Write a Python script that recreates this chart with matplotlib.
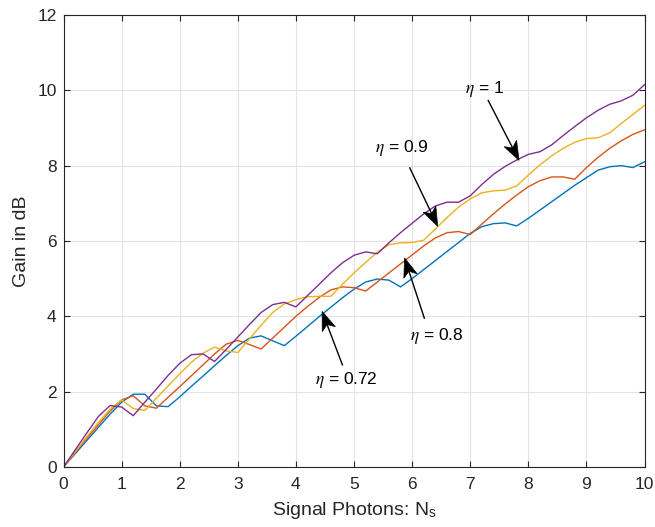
import numpy as np
import matplotlib
matplotlib.use('Agg')
import matplotlib.pyplot as plt
from matplotlib.patches import Polygon

plt.rcParams['font.family'] = ['Liberation Sans', 'DejaVu Sans']
plt.rcParams['mathtext.fontset'] = 'stix'

# signal photons, sampled every 0.2
ns = np.round(np.arange(0, 10.01, 0.2), 1)

# gain (dB) for each detector efficiency
gain_072 = [0, 0.35, 0.70, 1.05, 1.40, 1.72, 1.93, 1.93, 1.62, 1.60,
            1.86, 2.14, 2.41, 2.69, 2.96, 3.22, 3.42, 3.48, 3.35, 3.22,
            3.47, 3.73, 3.99, 4.24, 4.49, 4.72, 4.91, 4.99, 4.96, 4.78,
            5.00, 5.24, 5.48, 5.72, 5.96, 6.20, 6.38, 6.46, 6.48, 6.40,
            6.60, 6.82, 7.04, 7.26, 7.48, 7.68, 7.88, 7.97, 8.00, 7.95,
            8.10]
gain_08 = [0, 0.38, 0.76, 1.12, 1.48, 1.78, 1.89, 1.62, 1.56, 1.85,
           2.13, 2.42, 2.71, 3.00, 3.26, 3.36, 3.25, 3.13, 3.42, 3.71,
           4.00, 4.26, 4.50, 4.70, 4.78, 4.76, 4.67, 4.91, 5.15, 5.39,
           5.63, 5.87, 6.08, 6.22, 6.25, 6.17, 6.45, 6.72, 6.98, 7.22,
           7.44, 7.60, 7.70, 7.70, 7.64, 7.95, 8.22, 8.46, 8.66, 8.83,
           8.95]
gain_09 = [0, 0.40, 0.80, 1.18, 1.53, 1.78, 1.55, 1.50, 1.83, 2.15,
           2.47, 2.78, 3.02, 3.18, 3.08, 3.04, 3.40, 3.76, 4.10, 4.33,
           4.44, 4.52, 4.53, 4.53, 4.85, 5.15, 5.43, 5.70, 5.90, 5.95,
           5.96, 6.02, 6.32, 6.62, 6.90, 7.12, 7.28, 7.33, 7.35, 7.46,
           7.75, 8.02, 8.26, 8.46, 8.62, 8.72, 8.74, 8.87, 9.12, 9.36,
           9.60]
gain_1 = [0, 0.45, 0.90, 1.34, 1.63, 1.59, 1.36, 1.72, 2.07, 2.43,
          2.75, 2.98, 3.00, 2.80, 3.12, 3.45, 3.78, 4.10, 4.31, 4.37,
          4.25, 4.55, 4.85, 5.15, 5.42, 5.62, 5.71, 5.66, 5.95, 6.22,
          6.47, 6.72, 6.93, 7.03, 7.03, 7.20, 7.50, 7.77, 7.98, 8.15,
          8.30, 8.37, 8.55, 8.80, 9.04, 9.27, 9.47, 9.63, 9.72, 9.87,
          10.15]

series = [gain_072, gain_08, gain_09, gain_1]
colors = ['#0072BD', '#D95319', '#EDB120', '#7E2F8E']

# label text, label position, arrow tail, arrow tip
labels = [r'$\eta$ = 0.72', r'$\eta$ = 0.8', r'$\eta$ = 0.9', r'$\eta$ = 1']
label_pos = [(4.87, 2.31), (6.42, 3.48), (5.82, 8.48), (7.25, 10.03)]
arrow_tail = [(4.80, 2.71), (6.21, 3.95), (5.96, 7.94), (7.31, 9.73)]
arrow_tip = [(4.45, 4.13), (5.87, 5.55), (6.44, 6.39), (7.84, 8.14)]

fig = plt.figure(figsize=(6.55, 5.27), dpi=100)
ax = fig.add_axes([0.097, 0.114, 0.887, 0.8575])

for g, c in zip(series, colors):
    ax.plot(ns, g, color=c, lw=1.0)

ax.set_xlim(0, 10)
ax.set_ylim(0, 12)
ax.set_xticks(range(0, 11))
ax.set_yticks(range(0, 13, 2))
ax.grid(True, color='#e3e3e3', lw=0.8)
ax.set_axisbelow(True)
ax.tick_params(direction='in', length=4, width=0.8, top=True, right=True,
               labelsize=12.5, colors='#262626')
ax.tick_params(axis='x', pad=7)
ax.tick_params(axis='y', pad=5)
for sp in ax.spines.values():
    sp.set_color('#262626')
    sp.set_linewidth(0.8)

ax.set_xlabel(r'Signal Photons: N$_\mathregular{s}$', fontsize=14, color='#262626', labelpad=6)
ax.set_ylabel('Gain in dB', fontsize=14, color='#262626', labelpad=5)


def draw_arrow(ax, tail, tip, head_len=19, half_w=7, notch=5):
    # filled swept-back head built in pixel space
    T = ax.transData
    p0 = T.transform(tail)
    p1 = T.transform(tip)
    u = (p1 - p0) / np.hypot(*(p1 - p0))
    n = np.array([-u[1], u[0]])
    back = p1 - u * head_len
    inner = p1 - u * (head_len - notch)
    pts = np.array([p1, back + n * half_w, inner, back - n * half_w])
    inv = T.inverted()
    ax.add_patch(Polygon(inv.transform(pts), closed=True, fc='k', ec='k',
                         lw=0.5, zorder=6))
    q = inv.transform(np.array([p0, inner]))
    ax.plot(q[:, 0], q[:, 1], color='k', lw=1.0, zorder=6)


for txt, pos, t0, t1 in zip(labels, label_pos, arrow_tail, arrow_tip):
    draw_arrow(ax, t0, t1)
    ax.text(pos[0], pos[1], txt, fontsize=12.5, ha='center', va='center', color='k')

fig.savefig('out.png', dpi=100)
